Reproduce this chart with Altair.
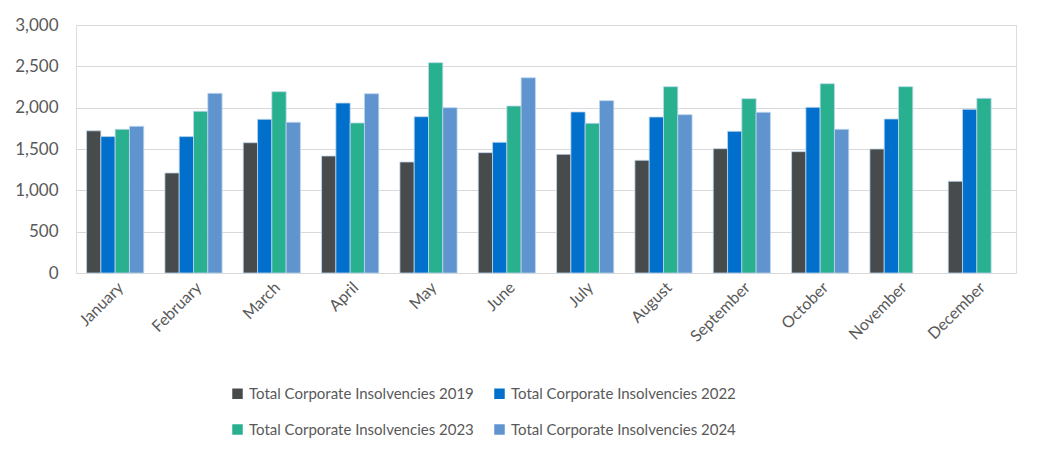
import altair as alt
import pandas as pd

months = ["January", "February", "March", "April", "May", "June", "July",
          "August", "September", "October", "November", "December"]
series = ["Total Corporate Insolvencies 2019", "Total Corporate Insolvencies 2022",
          "Total Corporate Insolvencies 2023", "Total Corporate Insolvencies 2024"]
v2019 = [1720, 1210, 1576, 1415, 1343, 1456, 1435, 1363, 1504, 1468, 1500, 1109]
v2022 = [1650, 1650, 1859, 2056, 1891, 1581, 1948, 1887, 1714, 2004, 1863, 1980]
v2023 = [1738, 1956, 2193, 1815, 2544, 2020, 1811, 2254, 2109, 2290, 2254, 2113]
v2024 = [1774, 2173, 1823, 2169, 2000, 2362, 2085, 1915, 1944, 1738, None, None]
colors = ["#474B4C", "#0070CC", "#28B08F", "#5F94CE"]

rows = []
for s, vals in zip(series, [v2019, v2022, v2023, v2024]):
    for m, v in zip(months, vals):
        if v is not None:
            rows.append({"Month": m, "Series": s, "Value": v})
df = pd.DataFrame(rows)

FONT = "Lato"
GREY = "#595959"

chart = alt.Chart(df).mark_bar(stroke="#BDD7EE", strokeWidth=0.8).encode(
    x=alt.X("Month:N", sort=months, title=None,
            scale=alt.Scale(paddingInner=0.27, paddingOuter=0.135),
            axis=alt.Axis(labelAngle=-45, labelFontSize=16, labelColor=GREY,
                          labelFont=FONT, ticks=False, domainColor="#D9D9D9",
                          labelPadding=6)),
    xOffset=alt.XOffset("Series:N", sort=series),
    y=alt.Y("Value:Q", title=None,
            scale=alt.Scale(domain=[0, 3000]),
            axis=alt.Axis(values=[0, 500, 1000, 1500, 2000, 2500, 3000], format=",.0f",
                          labelFontSize=17, labelColor=GREY, labelFont=FONT,
                          ticks=False, domain=False, gridColor="#D9D9D9",
                          labelPadding=18)),
    color=alt.Color("Series:N", sort=series,
                    scale=alt.Scale(domain=series, range=colors),
                    legend=alt.Legend(orient="none", legendX=154, legendY=361,
                                      direction="horizontal",
                                      columns=2, title=None, symbolType="square",
                                      symbolSize=110, symbolStrokeWidth=0,
                                      labelFontSize=15, labelColor=GREY, labelFont=FONT,
                                      rowPadding=20, columnPadding=18, labelOffset=4,
                                      labelLimit=400)),
).properties(
    width=940, height=248,
    padding={"left": 6, "top": 8, "right": 8, "bottom": 8},
).configure_view(stroke=None).configure(background="white")

chart.save("out.html", embed_options={"renderer": "svg", "actions": False})
